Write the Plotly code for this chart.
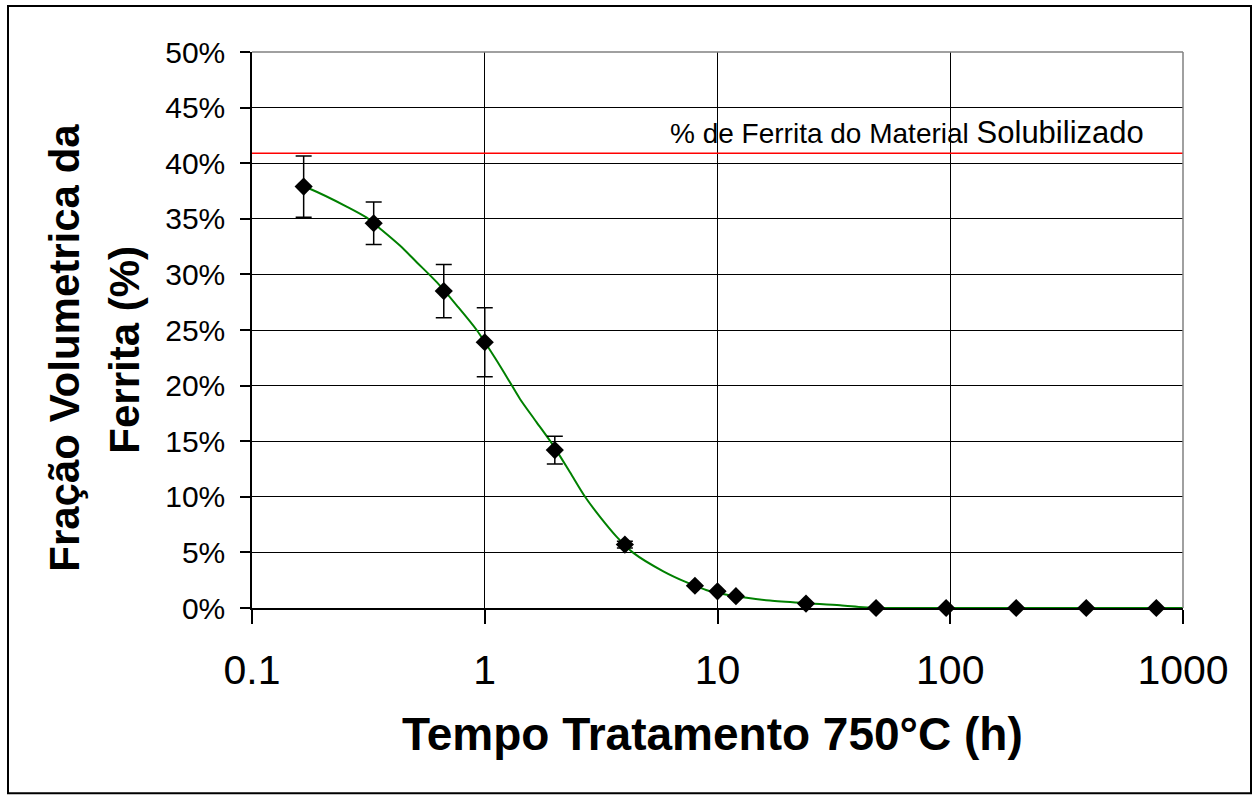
import plotly.graph_objects as go

# ---- data ----
time_h = [0.1667, 0.3333, 0.6667, 1, 2, 4, 8, 10, 12, 24, 48, 96, 192, 384, 768]
ferrite_pct = [37.9, 34.6, 28.5, 23.9, 14.2, 5.7, 2.0, 1.5, 1.06, 0.4, 0, 0, 0, 0, 0]
ferrite_err = [2.75, 1.9, 2.4, 3.1, 1.25, 0.3, 0, 0, 0, 0, 0, 0, 0, 0, 0]

curve_t = [0.1667, 0.177, 0.255, 0.311, 0.361, 0.432, 0.510, 0.622, 0.759,
           0.923, 1.106, 1.283, 1.417, 1.671, 1.971, 2.324, 2.697, 3.128, 3.69, 4.35,
           5.85, 7.38, 9.0, 10.97, 13.35, 16.8, 23.4, 33.6, 42.2, 50, 100, 200, 400, 1000]
curve_pct = [37.9, 37.7, 36.1, 35.1, 34.0, 32.6, 31.1, 29.3, 27.2,
             25.0, 22.5, 20.3, 18.8, 16.7, 14.6, 12.2, 10.0, 8.2, 6.4, 4.96,
             3.3, 2.3, 1.6, 1.2, 0.92, 0.67, 0.45, 0.25, 0.07, 0, 0, 0, 0, 0]

ref_t = [0.1, 1000]
ref_pct = [40.9, 40.9]
ref_label_main = "% de Ferrita do Material "
ref_label_tail = "Solubilizado"

x_tickvals = [0.1, 1, 10, 100, 1000]
x_ticktext = ["0.1", "1", "10", "100", "1000"]

x_title = "Tempo Tratamento 750°C (h)"
y_title_line1 = "Fração Volumetrica da"
y_title_line2 = "Ferrita (%)"

FONT = "Arial, 'Liberation Sans', sans-serif"

fig = go.Figure()

fig.add_trace(go.Scatter(
    x=ref_t, y=ref_pct, mode="lines",
    line=dict(color="#FF0000", width=1.5), hoverinfo="skip", showlegend=False))

fig.add_trace(go.Scatter(
    x=curve_t, y=curve_pct, mode="lines",
    line=dict(color="#008000", width=2, shape="spline", smoothing=0.8),
    showlegend=False, cliponaxis=False))

fig.add_trace(go.Scatter(
    x=time_h, y=ferrite_pct, mode="markers",
    marker=dict(symbol="diamond", size=14, color="black"),
    error_y=dict(type="data", array=ferrite_err, visible=True,
                 color="black", thickness=1.5, width=8),
    showlegend=False, cliponaxis=False))

# plot area: x 252..1183 px, y 52..608.5 px
fig.update_layout(
    width=1256, height=800,
    margin=dict(l=252, r=73, t=52, b=191.5),
    paper_bgcolor="white", plot_bgcolor="white",
    font=dict(family=FONT, color="black"),
    xaxis=dict(
        type="log", range=[-1, 3],
        tickvals=x_tickvals, ticktext=x_ticktext,
        showgrid=True, gridcolor="black", gridwidth=1,
        showline=True, linecolor="black", linewidth=1.5,
        ticks="outside", ticklen=14, tickcolor="black", tickwidth=1.5,
        tickfont=dict(size=41, family=FONT, color="black"),
        ticklabelstandoff=11,
        zeroline=False,
    ),
    yaxis=dict(
        range=[0, 50], dtick=5, ticksuffix="%",
        showgrid=True, gridcolor="black", gridwidth=1,
        showline=True, linecolor="black", linewidth=1.5,
        ticks="outside", ticklen=10, tickcolor="black", tickwidth=1.5,
        tickfont=dict(size=30, family=FONT, color="black"),
        ticklabelstandoff=9,
        zeroline=False,
    ),
)

# plot-area frame (top and right edges are grey in the reference)
fig.add_shape(type="line", xref="paper", yref="paper", x0=0, x1=1, y0=1, y1=1,
              line=dict(color="#808080", width=1.5), layer="above")
fig.add_shape(type="line", xref="paper", yref="paper", x0=1, x1=1, y0=0, y1=1,
              line=dict(color="#808080", width=1.5), layer="above")

# outer chart border
fig.add_shape(type="rect", xref="paper", yref="paper",
              x0=(8 - 252) / 931, x1=(1251 - 252) / 931,
              y0=(608.5 - 794) / 556.5, y1=(608.5 - 6) / 556.5,
              line=dict(color="black", width=2), layer="below")

# reference line label
fig.add_annotation(
    x=(668 - 252) / 931, xref="paper", y=41.0, yref="y",
    xanchor="left", yanchor="bottom", showarrow=False,
    text=ref_label_main + "<span style='font-size:31px'>" + ref_label_tail + "</span>",
    font=dict(size=28, family=FONT, color="black"))

# axis titles
fig.add_annotation(
    x=(712 - 252) / 931, xref="paper", y=(608.5 - 735) / 556.5, yref="paper",
    xanchor="center", yanchor="middle", showarrow=False,
    text="<b>" + x_title + "</b>",
    font=dict(size=46, family=FONT, color="black"))

fig.add_annotation(
    x=(65 - 252) / 931, xref="paper", y=(608.5 - 348) / 556.5, yref="paper",
    xanchor="center", yanchor="middle", showarrow=False, textangle=-90,
    text="<b>" + y_title_line1 + "</b>",
    font=dict(size=42, family=FONT, color="black"))

fig.add_annotation(
    x=(125 - 252) / 931, xref="paper", y=(608.5 - 350) / 556.5, yref="paper",
    xanchor="center", yanchor="middle", showarrow=False, textangle=-90,
    text="<b>" + y_title_line2 + "</b>",
    font=dict(size=42, family=FONT, color="black"))

fig.write_html("out.html", config={"displayModeBar": False},
               post_script="document.body.style.margin='0';")
